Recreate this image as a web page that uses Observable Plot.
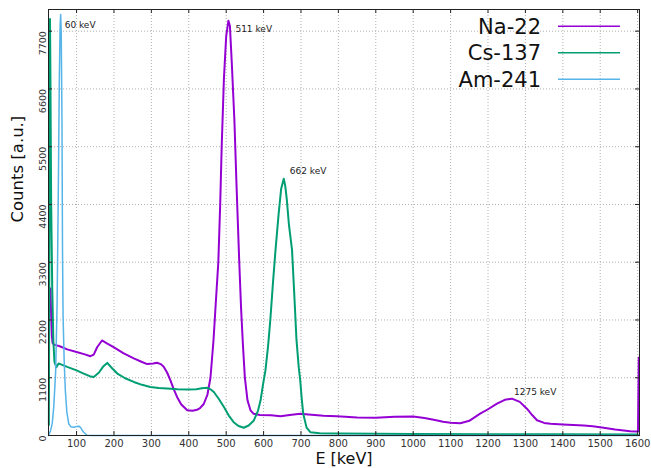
<!DOCTYPE html>
<html>
<head>
<meta charset="utf-8">
<script src="https://cdn.jsdelivr.net/npm/d3@7"></script>
<script src="https://cdn.jsdelivr.net/npm/@observablehq/plot@0.6"></script>
<style>
  body { margin: 0; background: white; }
  svg { display: block; }
</style>
</head>
<body>
<div id="chart"></div>
<script>
// ---- data ----
const seriesNames = ["Na-22", "Cs-137", "Am-241"];
const seriesColors = ["#9400d3", "#009e73", "#56b4e9"];

const naE = [30,32,34,36,40,55,75,100,120,137,146,155,168,180,200,225,253,275,289,305,315,325,333,342,351,360,369,380,396,410,422,430,440,450,458,466,472,479,484,488,494,500,506,510,515,522,528,535,540,545,550,557,565,573,590,620,645,670,698,720,760,796,850,900,950,1000,1030,1055,1080,1100,1126,1150,1179,1200,1224,1245,1264,1285,1304,1318,1331,1350,1367,1400,1456,1480,1509,1540,1580,1599,1601,1603];
const naC = [2800,2300,1900,1760,1730,1700,1640,1590,1550,1510,1540,1680,1810,1760,1680,1570,1470,1400,1360,1370,1385,1360,1310,1200,1050,880,730,590,480,470,490,520,600,780,1100,1800,2500,3300,4400,5500,6800,7600,7900,7800,7100,6000,4700,3300,2400,1700,1100,670,480,415,390,385,365,390,415,400,375,365,345,340,355,360,335,300,260,245,235,280,415,500,606,680,702,640,511,390,290,240,224,210,191,175,147,115,82,76,76,1480];

const csE = [26,28,29,30,32,35,38,41,46,52,60,75,100,119,135,146,160,172,182,195,209,230,253,275,297,320,342,370,396,420,435,449,458,467,480,494,507,520,533,547,560,574,585,592,598,605,612,618,625,632,640,647,654,658,662,668,676,682,688,694,698,702,706,715,725,750,800,900,1000,1200,1400,1600];
const csC = [200,5000,7930,7000,4500,2800,1800,1400,1300,1370,1350,1307,1240,1180,1130,1116,1200,1320,1383,1280,1180,1090,1020,965,924,905,893,880,874,880,900,910,880,828,700,541,380,254,180,147,190,287,470,670,950,1240,1700,2200,2900,3540,4200,4700,4890,4750,4500,4000,3540,2700,1820,1300,1050,700,415,150,63,45,40,35,30,25,22,20];

const amE = [25,30,35,39,44,48,51,54,56,57.5,59,61,62.5,64,67,70,74,79,85,93,100,106,111,115,119,128,140,1605];
const amC = [0,80,230,540,1200,2500,4500,6800,7800,8020,7700,6000,3500,2260,1400,860,450,224,165,159,170,178,150,100,63,5,0,0];

const xTicks = [100,200,300,400,500,600,700,800,900,1000,1100,1200,1300,1400,1500,1600];
const yTicks = [0,1100,2200,3300,4400,5500,6600,7700];

const peakLabels = ["60 keV", "511 keV", "662 keV", "1275 keV"];
const peakE = [57.5, 506, 654, 1264];
const peakC = [8020, 7900, 4890, 702];

// ---- build tables ----
const toRows = (E, C, name) => E.map((e, i) => ({E: e, C: C[i], series: name}));
const na = toRows(naE, naC, seriesNames[0]);
const cs = toRows(csE, csC, seriesNames[1]);
const am = toRows(amE, amC, seriesNames[2]);

const W = 651, H = 468;
const mL = 48, mR = 12, mT = 9, mB = 33;
const fw = W - mL - mR, fh = H - mT - mB;
const tickLen = 4;
const font = "DejaVu Sans, sans-serif";

// label offsets (style)
const labelOffsets = [[4, 11], [7, 8], [6, -8], [2, -7]];

const labelMarks = peakLabels.map((t, i) =>
  Plot.text([{E: peakE[i], C: peakC[i], t}], {
    x: "E", y: "C", text: "t", textAnchor: "start",
    dx: labelOffsets[i][0], dy: labelOffsets[i][1],
    fontSize: 9, fill: "#222"
  })
);

const chart = Plot.plot({
  width: W, height: H,
  marginLeft: mL, marginRight: mR, marginTop: mT, marginBottom: mB,
  style: {fontFamily: font, background: "white"},
  x: {domain: [25, 1605], axis: null},
  y: {domain: [0, 8113], axis: null},
  marks: [
    Plot.gridX(xTicks, {stroke: "#b0b0b0", strokeOpacity: 1, strokeDasharray: "1,2"}),
    Plot.gridY(yTicks, {stroke: "#b0b0b0", strokeOpacity: 1, strokeDasharray: "1,2"}),
    Plot.line(na, {x: "E", y: "C", stroke: seriesColors[0], strokeWidth: 2}),
    Plot.line(cs, {x: "E", y: "C", stroke: seriesColors[1], strokeWidth: 2}),
    Plot.line(am, {x: "E", y: "C", stroke: seriesColors[2], strokeWidth: 1.5}),
    ...labelMarks,
    // inward tick marks on all four sides
    Plot.ruleX(xTicks, {x: d => d, insetTop: fh - tickLen, stroke: "#222"}),
    Plot.ruleX(xTicks, {x: d => d, insetBottom: fh - tickLen, stroke: "#222"}),
    Plot.ruleY(yTicks, {y: d => d, insetRight: fw - tickLen, stroke: "#222"}),
    Plot.ruleY(yTicks, {y: d => d, insetLeft: fw - tickLen, stroke: "#222"}),
    Plot.frame({stroke: "#222", strokeWidth: 1}),
    // tick labels
    Plot.text(xTicks, {x: d => d, text: d => String(d), frameAnchor: "bottom", dy: 11, fontSize: 10, fill: "#333"}),
    Plot.text(yTicks, {y: d => d, text: d => String(d), frameAnchor: "left", rotate: -90, textAnchor: "end", dx: -6, fontSize: 9.5, fill: "#333"}),
    // axis titles
    Plot.text(["E [keV]"], {frameAnchor: "bottom", dy: 28, fontSize: 16, fill: "#111"}),
    Plot.text(["Counts [a.u.]"], {frameAnchor: "left", rotate: -90, dx: -31, fontSize: 16.5, fill: "#111"})
  ]
});

document.getElementById("chart").appendChild(chart);

// legend (top-right, inside frame)
const svg = d3.select(chart);
const lg = svg.append("g").attr("font-family", font);
const legendY = [26.3, 52.7, 79.3];
seriesNames.forEach((name, i) => {
  lg.append("text")
    .attr("x", 541).attr("y", legendY[i] + 7.5)
    .attr("text-anchor", "end")
    .attr("font-size", 21)
    .attr("fill", "#111")
    .text(name);
  lg.append("line")
    .attr("x1", 558).attr("x2", 620)
    .attr("y1", legendY[i]).attr("y2", legendY[i])
    .attr("stroke", seriesColors[i]).attr("stroke-width", 1.5);
});
</script>
</body>
</html>
